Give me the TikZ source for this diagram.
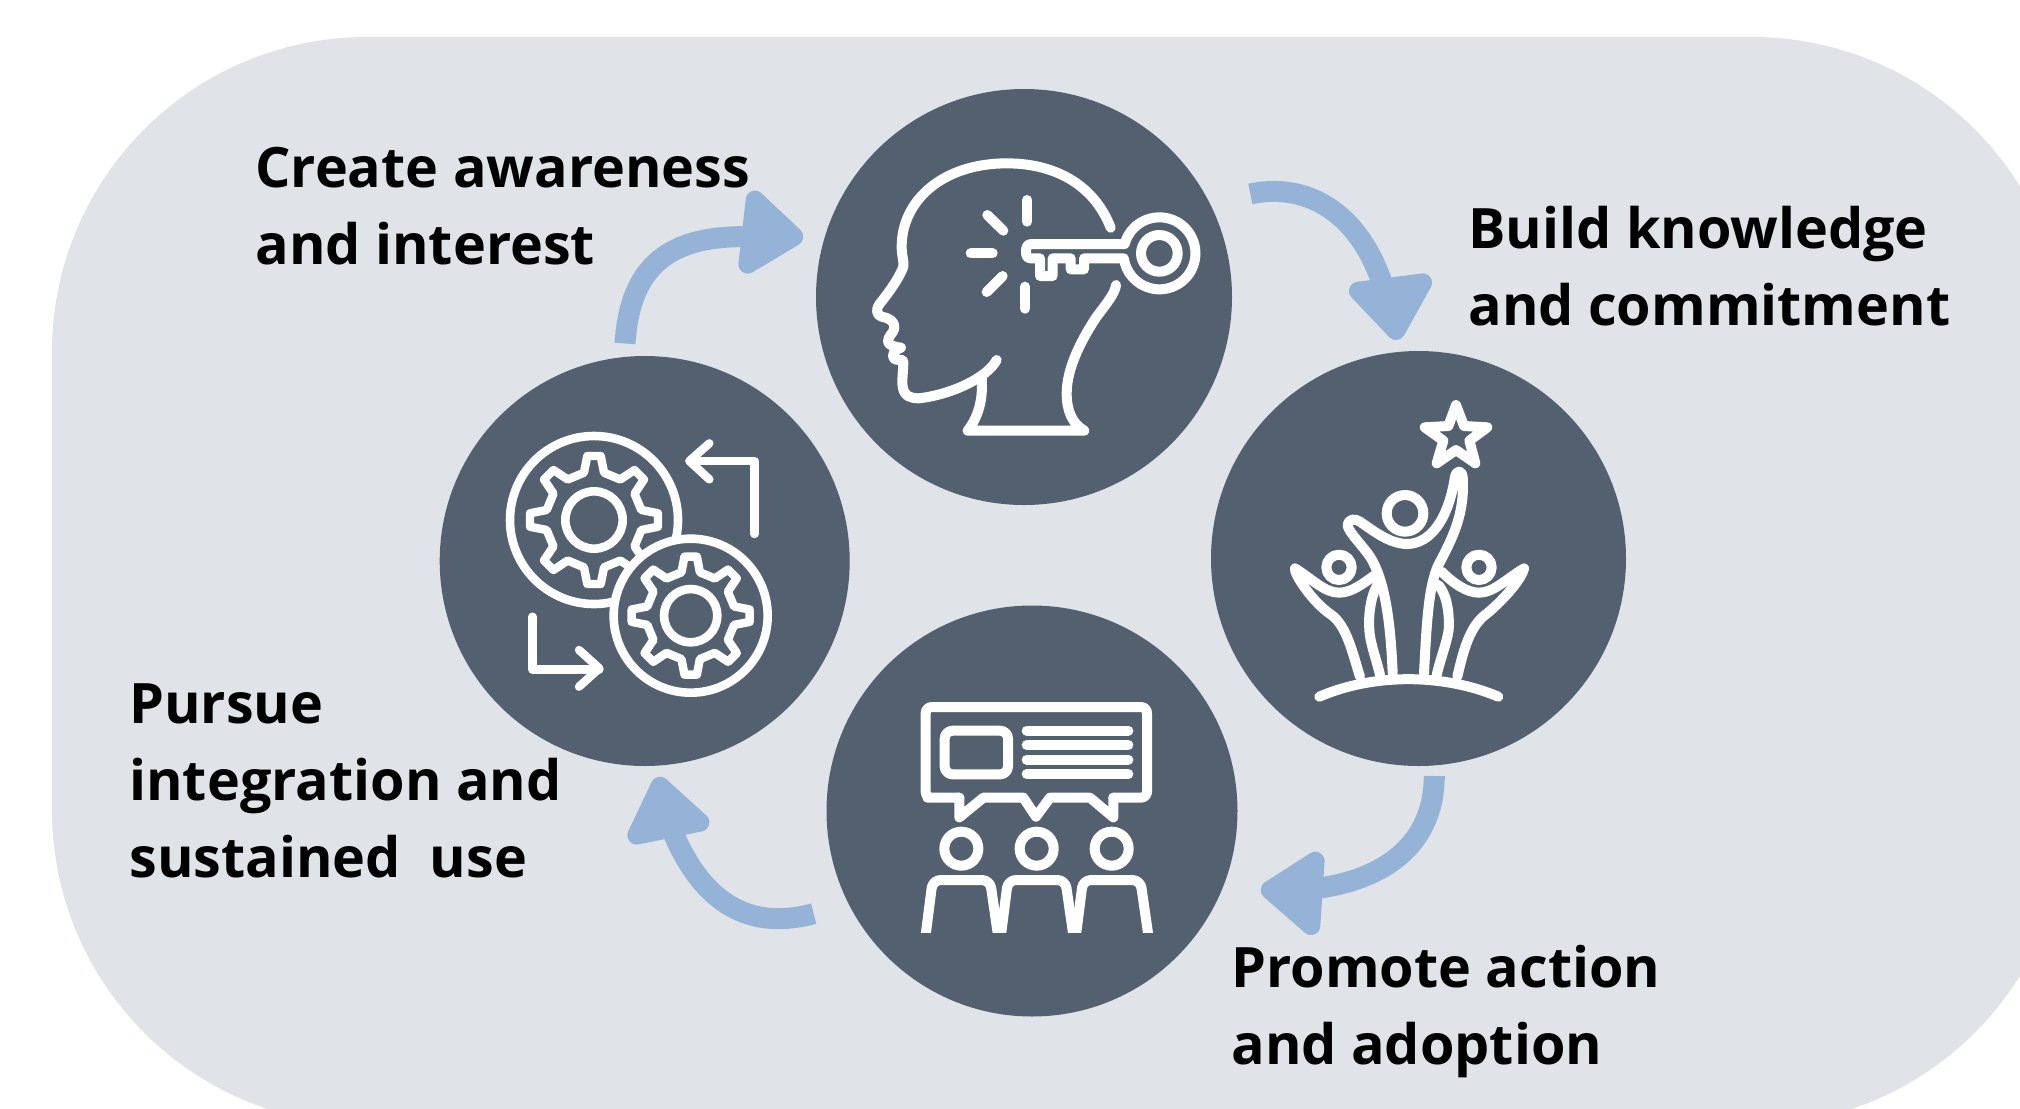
\documentclass[tikz,border=0pt]{standalone}
\usepackage{fontspec}
\setmainfont{Open Sans}
\definecolor{bgc}{HTML}{E0E4E9}
\definecolor{disc}{HTML}{53606F}
\definecolor{arrowc}{HTML}{95B3D7}
\tikzset{
  disknode/.style={circle,fill=disc,inner sep=0pt,minimum size=#1},
  shaft/.style={draw=arrowc,line width=10.5pt},
  tiphead/.style={fill=arrowc,draw=arrowc,line width=9.3pt,line join=round},
  label/.style={anchor=north west,inner sep=0pt,align=left,text=black,font=\bfseries\fontsize{27.85}{38.6}\selectfont},
  ico/.style={draw=white,line width=#1,line cap=round,line join=round},
  ico/.default=5pt,
  zoomed/.style={shift={(#1)},x=0.166667pt,y=-0.166667pt}
}
\newcommand{\gearpath}[4]{%
  (-#4:#2) \foreach \a in {0,45,...,315}{
    -- ({\a-#4}:#2) -- ({\a-#3}:#1) -- ({\a+#3}:#1) -- ({\a+#4}:#2)} -- cycle}
\begin{document}
\begin{tikzpicture}[x=0.5pt,y=-0.5pt]
\clip (0,0) rectangle (2020,1109);
\fill[white] (0,0) rectangle (2020,1109);
\fill[bgc,rounded corners=157.5pt] (52,37) rectangle (2067,1125);

\node[disknode=208pt] (head) at (1024,297) {};
\node[disknode=207.5pt] (people) at (1418.5,558.5) {};
\node[disknode=205.5pt] (talk) at (1032,811) {};
\node[disknode=205pt] (gears) at (644.7,561) {};

% arrows
\coordinate (a1s) at (625,343.5); \coordinate (a1e) at (750,236.7);
\coordinate (a2s) at (1250.3,194); \coordinate (a2e) at (1386,295);
\coordinate (a3s) at (1434.3,776); \coordinate (a3e) at (1312,889);
\coordinate (a4s) at (813.7,913.7); \coordinate (a4e) at (670,825);
\draw[shaft] (a1s) .. controls (630,265) and (670,235) .. (a1e);
\fill[tiphead] (755,200) -- (747.7,264.3) -- (794,236.7) -- cycle;
\draw[shaft] (a2s) .. controls (1300,183) and (1360,205) .. (a2e);
\fill[tiphead] (1358.3,291) -- (1422.7,282.7) -- (1396,330.7) -- cycle;
\draw[shaft] (a3s) .. controls (1434,840) and (1390,880) .. (a3e);
\fill[tiphead] (1270,890) -- (1315.3,861) -- (1311,925.7) -- cycle;
\draw[shaft] (a4s) .. controls (760,928) and (705,915) .. (a4e);
\fill[tiphead] (660,786) -- (700,822.3) -- (636.7,835.3) -- cycle;

% head and key
\begin{scope}[zoomed={800,80}]
\draw[ico] (932,443) .. controls (880,310) and (760,250) .. (620,250)
  .. controls (430,250) and (305,360) .. (305,500)
  .. controls (305,530) and (312,540) .. (310,560)
  .. controls (300,590) and (265,640) .. (240,670)
  .. controls (225,690) and (230,705) .. (245,710)
  .. controls (270,715) and (285,725) .. (283,745)
  .. controls (280,760) and (262,770) .. (264,785)
  .. controls (266,795) and (280,800) .. (303,803)
  .. controls (285,808) and (270,825) .. (285,838)
  .. controls (295,842) and (308,835) .. (310,845)
  .. controls (310,870) and (305,900) .. (308,920)
  .. controls (312,950) and (335,955) .. (355,955)
  .. controls (450,945) and (560,895) .. (590,840);
\draw[ico] (545,890) .. controls (550,960) and (535,1010) .. (503,1052) -- (853,1052)
  .. controls (815,1030) and (800,990) .. (800,940)
  .. controls (800,860) and (850,770) .. (890,710)
  .. controls (920,670) and (945,640) .. (948,615);
\draw[ico] (682,360) -- (682,425);
\draw[ico] (562,405) -- (610,452);
\draw[ico] (512,520) -- (578,520);
\draw[ico] (608,588) -- (560,636);
\draw[ico] (675,620) -- (675,686);
\draw[ico] (971,535) -- (852,535) -- (852,568) -- (812,568) -- (812,535) -- (758,535) -- (758,588) -- (720,588) -- (720,535) -- (692,535)
  .. controls (680,535) and (678,525) .. (678,515) .. controls (678,500) and (682,492) .. (695,492)
  -- (974,492) arc[start angle=195,end angle=532,radius=108];
\draw[ico] (1078,520) circle[radius=55];
\end{scope}

% people and star
\begin{scope}[zoomed={1200,340}]
\draw[ico] (768,195) -- (792,258) -- (862,262) -- (808,302) -- (826,370) -- (768,330) -- (710,370) -- (730,302) -- (674,262) -- (745,258) -- cycle;
\draw[ico] (615,520) circle[radius=55];
\draw[ico] (417,682) circle[radius=38];
\draw[ico] (837,682) circle[radius=38];
\draw[ico] (578,1000) .. controls (572,850) and (555,720) .. (510,650)
  .. controls (490,620) and (445,575) .. (443,557)
  .. controls (445,535) and (465,535) .. (480,545)
  .. controls (530,580) and (570,610) .. (620,612)
  .. controls (690,612) and (745,540) .. (765,410)
  .. controls (770,390) and (785,390) .. (788,410)
  .. controls (795,520) and (760,590) .. (715,675)
  .. controls (685,740) and (680,850) .. (672,1000);
\draw[ico] (525,705) .. controls (490,730) and (455,758) .. (417,758)
  .. controls (375,758) and (340,720) .. (285,685)
  .. controls (280,700) and (340,790) .. (395,825)
  .. controls (440,860) and (455,930) .. (480,1010);
\draw[ico] (535,730) .. controls (510,770) and (505,830) .. (508,870)
  .. controls (510,910) and (530,960) .. (540,1005);
\draw[ico] (725,695) .. controls (760,730) and (800,758) .. (837,758)
  .. controls (880,758) and (915,720) .. (972,685)
  .. controls (965,720) and (900,790) .. (855,825)
  .. controls (810,860) and (790,930) .. (772,1010);
\draw[ico] (715,735) .. controls (745,770) and (748,830) .. (746,870)
  .. controls (740,910) and (720,960) .. (710,1005);
\draw[ico] (358,1070) .. controls (520,1000) and (730,1000) .. (895,1070);
\end{scope}

% audience
\begin{scope}[zoomed={820,600}]
\draw[ico,rounded corners=3pt] (418,593) -- (340,593) -- (317,593) -- (317,321) -- (981,321) -- (981,593) -- (880,593);
\draw[ico] (418,593) -- (418,652) -- (490,593) -- (610,593) -- (648,650) -- (690,593) -- (810,593) -- (880,652) -- (880,593);
\draw[ico,rounded corners=4pt] (374,392) rectangle (564,523);
\foreach \yy in {392,435,479,522} \draw[ico] (620,\yy) -- (925,\yy);
\foreach \xx in {424,650,875} \draw[ico] (\xx,746) circle[radius=51];
\begin{scope}
\clip (200,200) rectangle (1100,998);
\foreach \xx in {0,226,451}
  \draw[ico,line cap=butt,rounded corners=4pt] (315+\xx,1020) -- (338+\xx,840) -- (510+\xx,840) -- (536+\xx,1020);
\end{scope}
\end{scope}

% gears
\begin{scope}[zoomed={430,350}]
\begin{scope}[shift={(492,510)}]
\draw[ico=4.3pt] (0,0) circle[radius=252];
\draw[ico=4.2pt] \gearpath{193}{145}{6}{12};
\draw[ico=4.3pt] (0,0) circle[radius=86];
\end{scope}
\begin{scope}[shift={(782,797)}]
\draw[ico=4.3pt,fill=disc] (0,0) circle[radius=231];
\draw[ico=4.2pt] \gearpath{178}{133}{6}{12};
\draw[ico=4.3pt] (0,0) circle[radius=80];
\end{scope}
\draw[ico=4.2pt] (974,552) -- (974,333) -- (780,333);
\draw[ico=4.2pt] (838,280) -- (778,333) -- (838,388);
\draw[ico=4.2pt] (307,800) -- (307,958) -- (508,958);
\draw[ico=4.2pt] (447,900) -- (508,955) -- (447,1010);
\end{scope}

% labels
\node[label] (l1) at (255,147) {Create awareness\\and interest};
\node[label] (l2) at (1468,206) {Build knowledge\\and commitment};
\node[label] (l3) at (1231,945) {Promote action\\and adoption};
\node[label] (l4) at (129,683) {Pursue\\integration and\\sustained\ \ use};
\end{tikzpicture}
\end{document}
